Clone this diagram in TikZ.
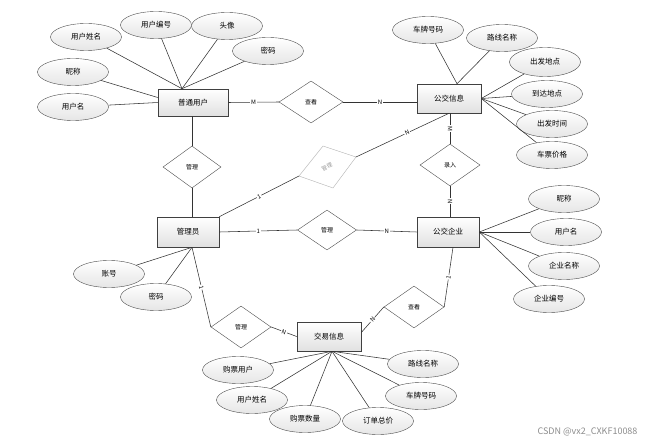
\documentclass[tikz,border=0pt]{standalone}
\usepackage{fontspec}
\setmainfont{Noto Sans CJK SC}
\usetikzlibrary{shapes.geometric}

\begin{document}
\begin{tikzpicture}[x=1pt,y=-1pt,
        link/.style={draw=black!80,line width=0.55pt},
        entity/.style={draw=black!75,line width=0.6pt,top color=white,bottom color=black!12,minimum width=64pt,minimum height=29pt,inner sep=0pt,font=\fontsize{7.5}{8}\selectfont},
        attr/.style={draw=black!70,ellipse,top color=white,bottom color=black!10,minimum width=71pt,minimum height=27pt,inner sep=0pt,font=\fontsize{7.5}{8}\selectfont},
        rel/.style={draw=black!70,diamond,fill=white,minimum width=60pt,minimum height=42pt,inner sep=0pt,font=\fontsize{6}{6}\selectfont},
        card/.style={fill=white,inner sep=0.8pt,font=\fontsize{6}{6}\selectfont}]
        \useasboundingbox (0,0) rectangle (655,446);
        % entities
        \node[entity,minimum width=70pt,minimum height=27pt] (pt) at (193,102.5) {普通用户};
        \node[entity] (xx) at (449,98.5) {公交信息};
        \node[entity,minimum width=62pt,minimum height=30pt] (gly) at (188,232) {管理员};
        \node[entity,minimum width=62pt,minimum height=30pt] (qy) at (448,232) {公交企业};
        \node[entity] (jy) at (329,336.5) {交易信息};
        % relationships
        \node[rel,minimum width=64pt] (ck1) at (311,102) {查看};
        \node[rel,minimum width=58pt] (gl1) at (192,167) {管理};
        \node[rel,minimum width=59pt,minimum height=40pt] (gl2) at (327,230) {管理};
        \node[rel] (lr) at (450,165) {录入};
        \node[rel] (gl3) at (241,327) {管理};
        \node[rel] (ck2) at (414,307) {查看};
        \coordinate (fbL) at (299,176);
        \coordinate (fbT) at (323,146);
        \coordinate (fbR) at (356,157);
        \coordinate (fbB) at (333,188);
        \draw[black!30,fill=white] (fbL) -- (fbT) -- (fbR) -- (fbB) -- cycle;
        \node[text=black!40,rotate=25,inner sep=0pt,font=\fontsize{5.5}{6}\selectfont] (fb) at (327,167) {管理};
        % attributes of 普通用户
        \node[attr] (a1) at (86,37) {用户姓名};
        \node[attr] (a2) at (156,25) {用户编号};
        \node[attr] (a3) at (227,26) {头像};
        \node[attr] (a4) at (268,51) {密码};
        \node[attr] (a5) at (73,72) {昵称};
        \node[attr] (a6) at (73,107) {用户名};
        % attributes of 公交信息
        \node[attr] (b1) at (428,30) {车牌号码};
        \node[attr] (b2) at (502,38) {路线名称};
        \node[attr,minimum height=29pt] (b3) at (545,62) {出发地点};
        \node[attr] (b4) at (547,94) {到达地点};
        \node[attr] (b5) at (552,124) {出发时间};
        \node[attr] (b6) at (552,155) {车票价格};
        % attributes of 公交企业
        \node[attr] (c1) at (564,199) {昵称};
        \node[attr] (c2) at (566,232) {用户名};
        \node[attr] (c3) at (564,266) {企业名称};
        \node[attr] (c4) at (549,299) {企业编号};
        % attributes of 管理员
        \node[attr] (d1) at (109,274) {账号};
        \node[attr] (d2) at (156,297) {密码};
        % attributes of 交易信息
        \node[attr] (e1) at (238,370) {购票用户};
        \node[attr] (e2) at (252,400) {用户姓名};
        \node[attr] (e3) at (305,419) {购票数量};
        \node[attr] (e4) at (378,421) {订单总价};
        \node[attr] (e5) at (421,396) {车牌号码};
        \node[attr] (e6) at (423,364) {路线名称};
        % attribute lines
        \foreach \a in {a1,a2,a3,a4} \draw[link] (\a) -- ([xshift=-11pt]pt.north);
        \draw[link] (a5) -- ([yshift=5pt]pt.west);
        \draw[link] (a6) -- (pt.west);
        \foreach \a in {b1,b2} \draw[link] (\a) -- ([xshift=8pt]xx.north);
        \foreach \a in {b3,b4,b5,b6} \draw[link] (\a) -- (xx.east);
        \foreach \a in {c1,c2,c3,c4} \draw[link] (\a) -- (qy.east);
        \foreach \a in {d1,d2} \draw[link] (\a) -- ([xshift=4pt]gly.south);
        \foreach \a in {e1,e2,e3,e4,e5,e6} \draw[link] (\a) -- ([xshift=3pt]jy.south);
        % relationship lines
        \draw[link] (pt.east) -- node[card] {M} (ck1.west);
        \draw[link] (ck1.east) -- node[card] {N} (ck1.east -| xx.west);
        \draw[link] (gl1.north |- pt.south) -- (gl1.north);
        \draw[link] (gl1.south) -- (gl1.south |- gly.north);
        \draw[link] (gly.north east) -- node[card,sloped] {1} (fbL);
        \draw[link] (fbR) -- node[card,sloped,pos=.55] {N} (xx.south);
        \draw[link] (lr.north |- xx.south) -- node[card,sloped] {M} (lr.north);
        \draw[link] (lr.south) -- node[card,sloped] {N} (lr.south |- qy.north);
        \draw[link] (gly.east) -- node[card] {1} (gl2.west);
        \draw[link] (gl2.east) -- node[card] {N} (qy.west);
        \draw[link] ([xshift=4pt]gly.south) -- node[card,sloped] {1} (gl3.west);
        \draw[link] (gl3.east) -- node[card,sloped] {N} (jy.west);
        \draw[link] ([yshift=4pt]jy.east) -- node[card,sloped] {N} (ck2.west);
        \draw[link] (ck2.east) -- node[card,sloped] {1} ([xshift=5pt]qy.south);
        % watermark
        \node[text=black!45,anchor=east,font=\fontsize{9}{10}\selectfont] (wm) at (641,432) {CSDN @vx2\_CXKF10088};
    \end{tikzpicture}
\end{document}
